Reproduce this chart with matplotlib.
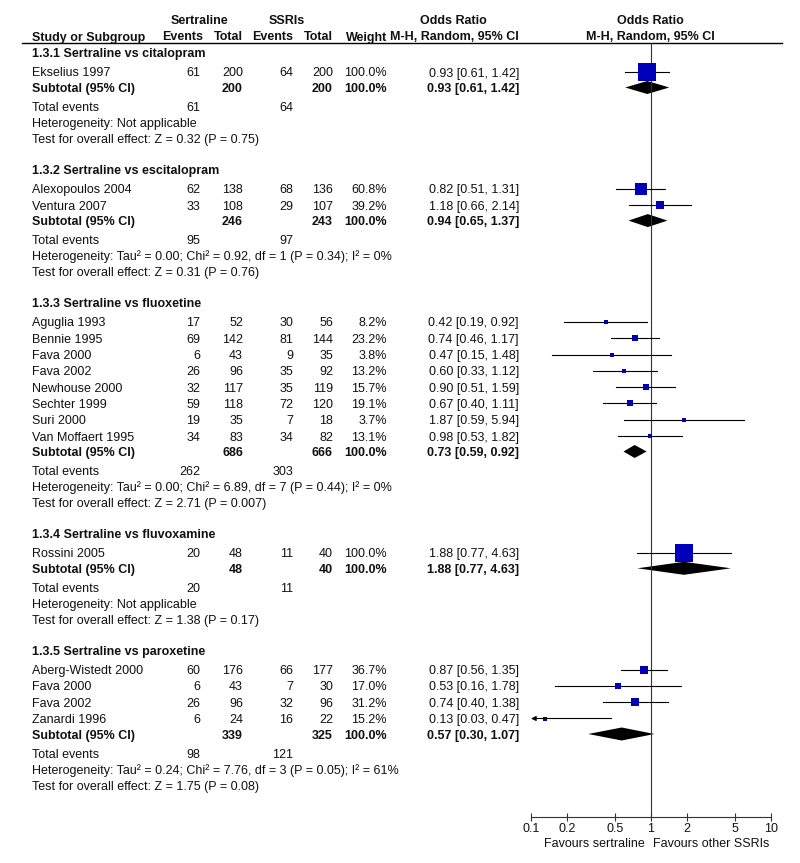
import matplotlib.pyplot as plt
from matplotlib.patches import Polygon

plt.rcParams['font.family'] = ['Liberation Sans', 'DejaVu Sans']

# ---- data ----
group_titles = ['1.3.1 Sertraline vs citalopram', '1.3.2 Sertraline vs escitalopram',
                '1.3.3 Sertraline vs fluoxetine', '1.3.4 Sertraline vs fluvoxamine',
                '1.3.5 Sertraline vs paroxetine']

studies = [['Ekselius 1997'],
           ['Alexopoulos 2004', 'Ventura 2007'],
           ['Aguglia 1993', 'Bennie 1995', 'Fava 2000', 'Fava 2002', 'Newhouse 2000',
            'Sechter 1999', 'Suri 2000', 'Van Moffaert 1995'],
           ['Rossini 2005'],
           ['Aberg-Wistedt 2000', 'Fava 2000', 'Fava 2002', 'Zanardi 1996']]

sert_events = [[61], [62, 33], [17, 69, 6, 26, 32, 59, 19, 34], [20], [60, 6, 26, 6]]
sert_total = [[200], [138, 108], [52, 142, 43, 96, 117, 118, 35, 83], [48], [176, 43, 96, 24]]
ssri_events = [[64], [68, 29], [30, 81, 9, 35, 35, 72, 7, 34], [11], [66, 7, 32, 16]]
ssri_total = [[200], [136, 107], [56, 144, 35, 92, 119, 120, 18, 82], [40], [177, 30, 96, 22]]
weights = [[100.0], [60.8, 39.2], [8.2, 23.2, 3.8, 13.2, 15.7, 19.1, 3.7, 13.1], [100.0],
           [36.7, 17.0, 31.2, 15.2]]
or_est = [[0.93], [0.82, 1.18], [0.42, 0.74, 0.47, 0.60, 0.90, 0.67, 1.87, 0.98], [1.88],
          [0.87, 0.53, 0.74, 0.13]]
or_low = [[0.61], [0.51, 0.66], [0.19, 0.46, 0.15, 0.33, 0.51, 0.40, 0.59, 0.53], [0.77],
          [0.56, 0.16, 0.40, 0.03]]
or_high = [[1.42], [1.31, 2.14], [0.92, 1.17, 1.48, 1.12, 1.59, 1.11, 5.94, 1.82], [4.63],
           [1.35, 1.78, 1.38, 0.47]]

sub_sert_total = [200, 246, 686, 48, 339]
sub_ssri_total = [200, 243, 666, 40, 325]
sub_est = [0.93, 0.94, 0.73, 1.88, 0.57]
sub_low = [0.61, 0.65, 0.59, 0.77, 0.30]
sub_high = [1.42, 1.37, 0.92, 4.63, 1.07]
tot_sert_events = [61, 95, 262, 20, 98]
tot_ssri_events = [64, 97, 303, 11, 121]

heterogeneity = ['Heterogeneity: Not applicable',
                 'Heterogeneity: Tau\u00b2 = 0.00; Chi\u00b2 = 0.92, df = 1 (P = 0.34); I\u00b2 = 0%',
                 'Heterogeneity: Tau\u00b2 = 0.00; Chi\u00b2 = 6.89, df = 7 (P = 0.44); I\u00b2 = 0%',
                 'Heterogeneity: Not applicable',
                 'Heterogeneity: Tau\u00b2 = 0.24; Chi\u00b2 = 7.76, df = 3 (P = 0.05); I\u00b2 = 61%']
overall = ['Test for overall effect: Z = 0.32 (P = 0.75)',
           'Test for overall effect: Z = 0.31 (P = 0.76)',
           'Test for overall effect: Z = 2.71 (P = 0.007)',
           'Test for overall effect: Z = 1.38 (P = 0.17)',
           'Test for overall effect: Z = 1.75 (P = 0.08)']

ticks = [0.1, 0.2, 0.5, 1, 2, 5, 10]
tick_labels = ['0.1', '0.2', '0.5', '1', '2', '5', '10']

# ---- layout (pixels, figure is 800 x 863) ----
W, H = 800, 863
FS = 9
TXT = '#111111'
BLUE = '#0000bb'
X_NAME, X_EV1, X_TOT1, X_EV2, X_TOT2, X_WT, X_CI = 32, 200, 243, 293, 333, 387, 519
AX_LEFT, AX_RIGHT, AX_TOP, AX_BOTTOM = 531, 771, 43.5, 817

fig = plt.figure(figsize=(W / 100, H / 100), dpi=100)
tx = fig.add_axes([0, 0, 1, 1])
tx.set_xlim(0, W)
tx.set_ylim(H, 0)
tx.axis('off')

fx = fig.add_axes([AX_LEFT / W, (H - AX_BOTTOM) / H, (AX_RIGHT - AX_LEFT) / W,
                   (AX_BOTTOM - AX_TOP) / H])
fx.set_xscale('log')
fx.set_xlim(0.1, 10)
fx.set_ylim(AX_BOTTOM, AX_TOP)
fx.patch.set_alpha(0)
for s in ['top', 'left', 'right']:
    fx.spines[s].set_visible(False)
fx.spines['bottom'].set_color('#333333')
fx.set_yticks([])
fx.set_xticks(ticks)
fx.set_xticklabels(tick_labels)
fx.minorticks_off()
fx.tick_params(axis='x', direction='inout', length=6, width=0.8, color='#333333',
               labelsize=FS, labelcolor=TXT, pad=1)
fx.axvline(1, color='#333333', lw=0.8)


def put(x, y, s, ha='left', bold=False):
    # y is the visual centre of the text row
    tx.text(x, y + 4.5, s, ha=ha, va='baseline', fontsize=FS, color=TXT,
            fontweight='bold' if bold else 'normal')


def diamond(y, lo, est, hi):
    fx.add_patch(Polygon([[lo, y], [est, y - 6.5], [hi, y], [est, y + 6.5]],
                         closed=True, color='black', lw=0))


# column headers
put(199, 20, 'Sertraline', ha='center', bold=True)
put(287, 20, 'SSRIs', ha='center', bold=True)
put(453, 20, 'Odds Ratio', ha='center', bold=True)
put(650, 20, 'Odds Ratio', ha='center', bold=True)
put(X_NAME, 36, 'Study or Subgroup', bold=True)
put(203, 36, 'Events', ha='right', bold=True)
put(X_TOT1, 36, 'Total', ha='right', bold=True)
put(X_EV2, 36, 'Events', ha='right', bold=True)
put(X_TOT2, 36, 'Total', ha='right', bold=True)
put(X_WT, 36, 'Weight', ha='right', bold=True)
put(X_CI, 36, 'M-H, Random, 95% CI', ha='right', bold=True)
put(650, 36, 'M-H, Random, 95% CI', ha='center', bold=True)
tx.plot([22, 782], [AX_TOP, AX_TOP], color='black', lw=1)

y = 52.5
for g in range(len(group_titles)):
    put(X_NAME, y, group_titles[g], bold=True)
    y += 19.5
    for i, name in enumerate(studies[g]):
        put(X_NAME, y, name)
        put(X_EV1, y, str(sert_events[g][i]), ha='right')
        put(X_TOT1, y, str(sert_total[g][i]), ha='right')
        put(X_EV2, y, str(ssri_events[g][i]), ha='right')
        put(X_TOT2, y, str(ssri_total[g][i]), ha='right')
        put(X_WT, y, '%.1f%%' % weights[g][i], ha='right')
        put(X_CI, y, '%.2f [%.2f, %.2f]' % (or_est[g][i], or_low[g][i], or_high[g][i]), ha='right')

        lo = max(or_low[g][i], 0.1)
        if or_low[g][i] < 0.1:
            fx.annotate('', xy=(0.1, y), xytext=(or_high[g][i], y),
                        arrowprops=dict(arrowstyle='-|>', color='black', lw=0.8,
                                        mutation_scale=7, shrinkA=0, shrinkB=0))
        else:
            fx.plot([lo, or_high[g][i]], [y, y], color='black', lw=0.8)
        side = 2.5 + 16 * weights[g][i] / 100
        fx.plot(or_est[g][i], y, marker='s', color=BLUE, markersize=side * 0.72, mew=0)
        y += 16.3
    y -= 0.8
    put(X_NAME, y, 'Subtotal (95% CI)', bold=True)
    put(X_TOT1, y, str(sub_sert_total[g]), ha='right', bold=True)
    put(X_TOT2, y, str(sub_ssri_total[g]), ha='right', bold=True)
    put(X_WT, y, '100.0%', ha='right', bold=True)
    put(X_CI, y, '%.2f [%.2f, %.2f]' % (sub_est[g], sub_low[g], sub_high[g]), ha='right', bold=True)
    diamond(y, sub_low[g], sub_est[g], sub_high[g])
    y += 19
    put(X_NAME, y, 'Total events')
    put(X_EV1, y, str(tot_sert_events[g]), ha='right')
    put(X_EV2, y, str(tot_ssri_events[g]), ha='right')
    y += 16
    put(X_NAME, y, heterogeneity[g])
    y += 16.3
    put(X_NAME, y, overall[g])
    y += 30.5

put(645, 842, 'Favours sertraline', ha='right')
put(653, 842, 'Favours other SSRIs')

fig.savefig('out.png', dpi=100)
